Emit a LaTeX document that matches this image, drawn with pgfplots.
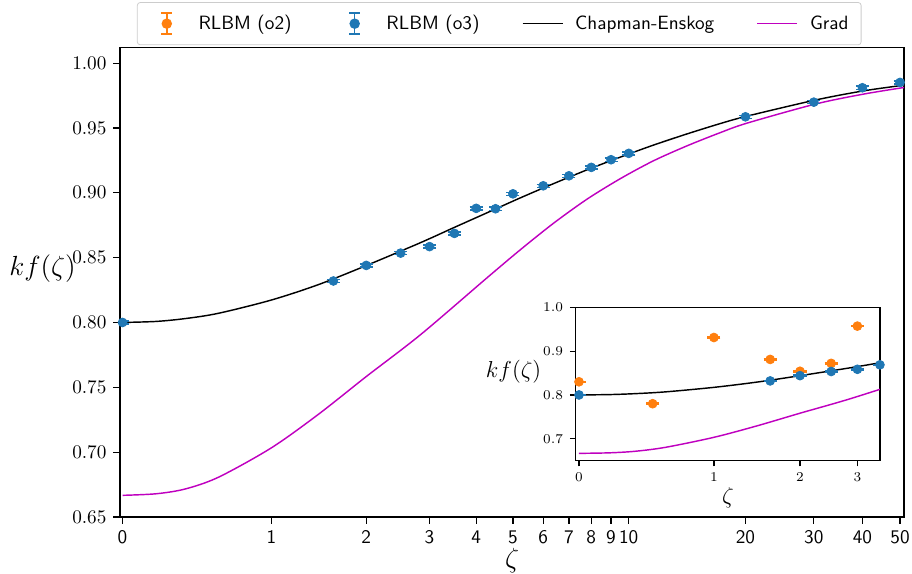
\documentclass[border=0pt]{standalone}
\usepackage{pgfplots}
\pgfplotsset{compat=1.18}
\definecolor{mplblue}{RGB}{31,119,180}
\definecolor{mplorange}{RGB}{255,127,14}
\definecolor{mplmag}{RGB}{191,0,191}
\definecolor{legframe}{RGB}{204,204,204}
\begin{document}
\begin{tikzpicture}
\begin{axis}[
  at={(0pt,0pt)}, anchor=south west,
  scale only axis, width=407.7pt, height=244.1pt,
  x coord trafo/.code={\pgfmathparse{ln(#1+sqrt(#1*#1+1))}},
  xmin=-0.015, xmax=51.2, ymin=0.65, ymax=1.012,
  xtick={0,1,2,3,4,5,6,7,8,9,10,20,30,40,50},
  xticklabels={0,1,2,3,4,5,6,7,8,9,10,20,30,40,50},
  xticklabel style={font=\sffamily},
  ytick={0.65,0.70,0.75,0.80,0.85,0.90,0.95,1.00},
  yticklabel style={/pgf/number format/.cd, fixed, fixed zerofill, precision=2},
  tick align=outside, tick pos=left, major tick length=3.5pt,
  axis line style={line width=0.6pt}, tick style={black, line width=0.6pt},
  xlabel={$\zeta$}, ylabel={$kf(\zeta)$},
  xlabel style={font=\fontsize{15}{18}\selectfont, at={(axis description cs:0.5,-0.066)}, anchor=north, inner sep=0pt},
  ylabel style={font=\fontsize{15}{18}\selectfont, rotate=-90, at={(axis description cs:-0.056,0.53)}, anchor=east, inner sep=0pt},
  legend columns=4,
  legend style={at={(0.4837,1.005)}, anchor=south, draw=legframe, font=\sffamily,
    inner xsep=4.5pt, inner ysep=4.5pt,
    rounded corners=1.5pt, /tikz/every even column/.append style={column sep=20pt}},
  legend cell align=left,
]
\addlegendimage{mplorange, mark=none, line width=0.8pt, legend image code/.code={
  \draw (10.4pt,-5.5pt) -- (10.4pt,5.5pt)
     (7.5pt,-5.5pt) -- (13.3pt,-5.5pt) (7.5pt,5.5pt) -- (13.3pt,5.5pt);
  \fill (10.4pt,0pt) circle (2.3pt);
  \path (0pt,0pt) (24.5pt,0pt);}}
\addlegendentry{RLBM (o2)}
\addlegendimage{mplblue, mark=none, line width=0.8pt, legend image code/.code={
  \draw (10.4pt,-5.5pt) -- (10.4pt,5.5pt)
     (7.5pt,-5.5pt) -- (13.3pt,-5.5pt) (7.5pt,5.5pt) -- (13.3pt,5.5pt);
  \fill (10.4pt,0pt) circle (2.3pt);
  \path (0pt,0pt) (24.5pt,0pt);}}
\addlegendentry{RLBM (o3)}
\addlegendimage{legend image code/.code={\draw[black, line width=0.75pt] (0pt,0pt) -- (20.8pt,0pt);}}
\addlegendentry{\hspace{4.2pt}Chapman-Enskog}
\addlegendimage{legend image code/.code={\draw[mplmag, line width=0.75pt] (0pt,0pt) -- (20.8pt,0pt);}}
\addlegendentry{\hspace{4.2pt}Grad}

\addplot[black, line width=0.75pt, smooth, forget plot] coordinates {
(0,0.8000) (0.2,0.8008) (0.38,0.8030) (0.6,0.8071) (1,0.8173) (1.439,0.8292) (2,0.8439)
(2.833,0.8615) (3.485,0.8731) (4.275,0.8846) (5.229,0.8961) (6.388,0.9071) (7.80,0.9177)
(9.514,0.9275) (11.59,0.9368) (14.14,0.9454) (17.23,0.9534) (20.18,0.9591) (30.25,0.9715)
(40.27,0.9786) (51.2,0.9830)};
\addplot[mplmag, line width=0.75pt, smooth, forget plot] coordinates {
(0,0.6667) (0.2,0.6679) (0.38,0.6716) (0.6,0.6807) (1,0.7033) (1.439,0.7292) (2,0.7583)
(2.833,0.7905) (4.275,0.8345) (5.229,0.8561) (6.388,0.8766) (7.80,0.8951) (9.514,0.9109)
(11.59,0.9247) (14.14,0.9362) (17.23,0.9464) (20.18,0.9537) (30.25,0.9684) (40.27,0.9761)
(51.2,0.9812)};
\addplot[mplblue, only marks, mark=*, mark size=2.3pt, forget plot,
  error bars/.cd, y dir=both, y explicit,
  error bar style={mplblue, line width=0.75pt},
  error mark options={mplblue, rotate=90, mark size=3.4pt, line width=0.75pt}] coordinates {
(0,0.800) +- (0,0.0012) (1.6,0.832) +- (0,0.0012) (2,0.844) +- (0,0.0012)
(2.5,0.8535) +- (0,0.0012) (3,0.8585) +- (0,0.0012) (3.5,0.8687) +- (0,0.0012)
(4,0.888) +- (0,0.0012) (4.5,0.8877) +- (0,0.0012) (5,0.8992) +- (0,0.0012)
(6,0.9054) +- (0,0.0012) (7,0.9131) +- (0,0.0012) (8,0.9196) +- (0,0.0012)
(9,0.9255) +- (0,0.0012) (10,0.9304) +- (0,0.0012) (20,0.9586) +- (0,0.0012)
(30,0.9699) +- (0,0.0012) (40,0.981) +- (0,0.0012) (50,0.9851) +- (0,0.0012)};
\end{axis}

\begin{axis}[
  at={(236.96pt,29.28pt)}, anchor=south west,
  scale only axis, width=158.2pt, height=79.77pt,
  x coord trafo/.code={\pgfmathparse{ln(#1+sqrt(#1*#1+1))}},
  xmin=-0.0215, xmax=3.5, ymin=0.65, ymax=1.0,
  xtick={0,1,2,3}, xticklabels={$0$,$1$,$2$,$3$}, ytick={0.7,0.8,0.9,1.0},
  ticklabel style={font=\scriptsize},
  yticklabel style={/pgf/number format/.cd, fixed, fixed zerofill, precision=1},
  axis background/.style={fill=white},
  tick align=outside, tick pos=left, major tick length=3pt,
  axis line style={line width=0.6pt}, tick style={black, line width=0.6pt},
  xlabel={$\zeta$}, ylabel={$kf(\zeta)$},
  xlabel style={font=\fontsize{11.5}{14}\selectfont, at={(axis description cs:0.5,-0.175)}, anchor=north, inner sep=0pt},
  ylabel style={font=\fontsize{11.5}{14}\selectfont, rotate=-90, at={(axis description cs:-0.112,0.578)}, anchor=east, inner sep=0pt},
]
\addplot[black, line width=0.75pt, smooth] coordinates {
(0,0.8000) (0.2,0.8008) (0.38,0.8030) (0.6,0.8071) (1,0.8173) (1.439,0.8292) (2,0.8439)
(2.833,0.8615) (3.485,0.8731) (4.275,0.8846)};
\addplot[mplmag, line width=0.75pt, smooth] coordinates {
(0,0.6667) (0.2,0.6679) (0.38,0.6716) (0.6,0.6807) (1,0.7033) (1.439,0.7292) (2,0.7583)
(2.833,0.7905) (4.275,0.8345)};
\addplot[mplorange, only marks, mark=*, mark size=2.3pt,
  error bars/.cd, y dir=both, y explicit,
  error bar style={mplorange, line width=0.75pt},
  error mark options={mplorange, rotate=90, mark size=3.4pt, line width=0.75pt}] coordinates {
(0,0.830) +- (0,0.0012) (0.5,0.780) +- (0,0.0012) (1,0.931) +- (0,0.0012)
(1.6,0.881) +- (0,0.0012) (2,0.854) +- (0,0.0012) (2.5,0.872) +- (0,0.0012)
(3,0.957) +- (0,0.0012)};
\addplot[mplblue, only marks, mark=*, mark size=2.3pt,
  error bars/.cd, y dir=both, y explicit,
  error bar style={mplblue, line width=0.75pt},
  error mark options={mplblue, rotate=90, mark size=3.4pt, line width=0.75pt}] coordinates {
(0,0.800) +- (0,0.0012) (1.6,0.832) +- (0,0.0012) (2,0.844) +- (0,0.0012)
(2.5,0.8535) +- (0,0.0012) (3,0.8585) +- (0,0.0012) (3.5,0.8687) +- (0,0.0012)};
\end{axis}
\pgfresetboundingbox
\path[use as bounding box] (-62.4pt,-29.64pt) rectangle (411.84pt,268.84pt);
\end{tikzpicture}
\end{document}
